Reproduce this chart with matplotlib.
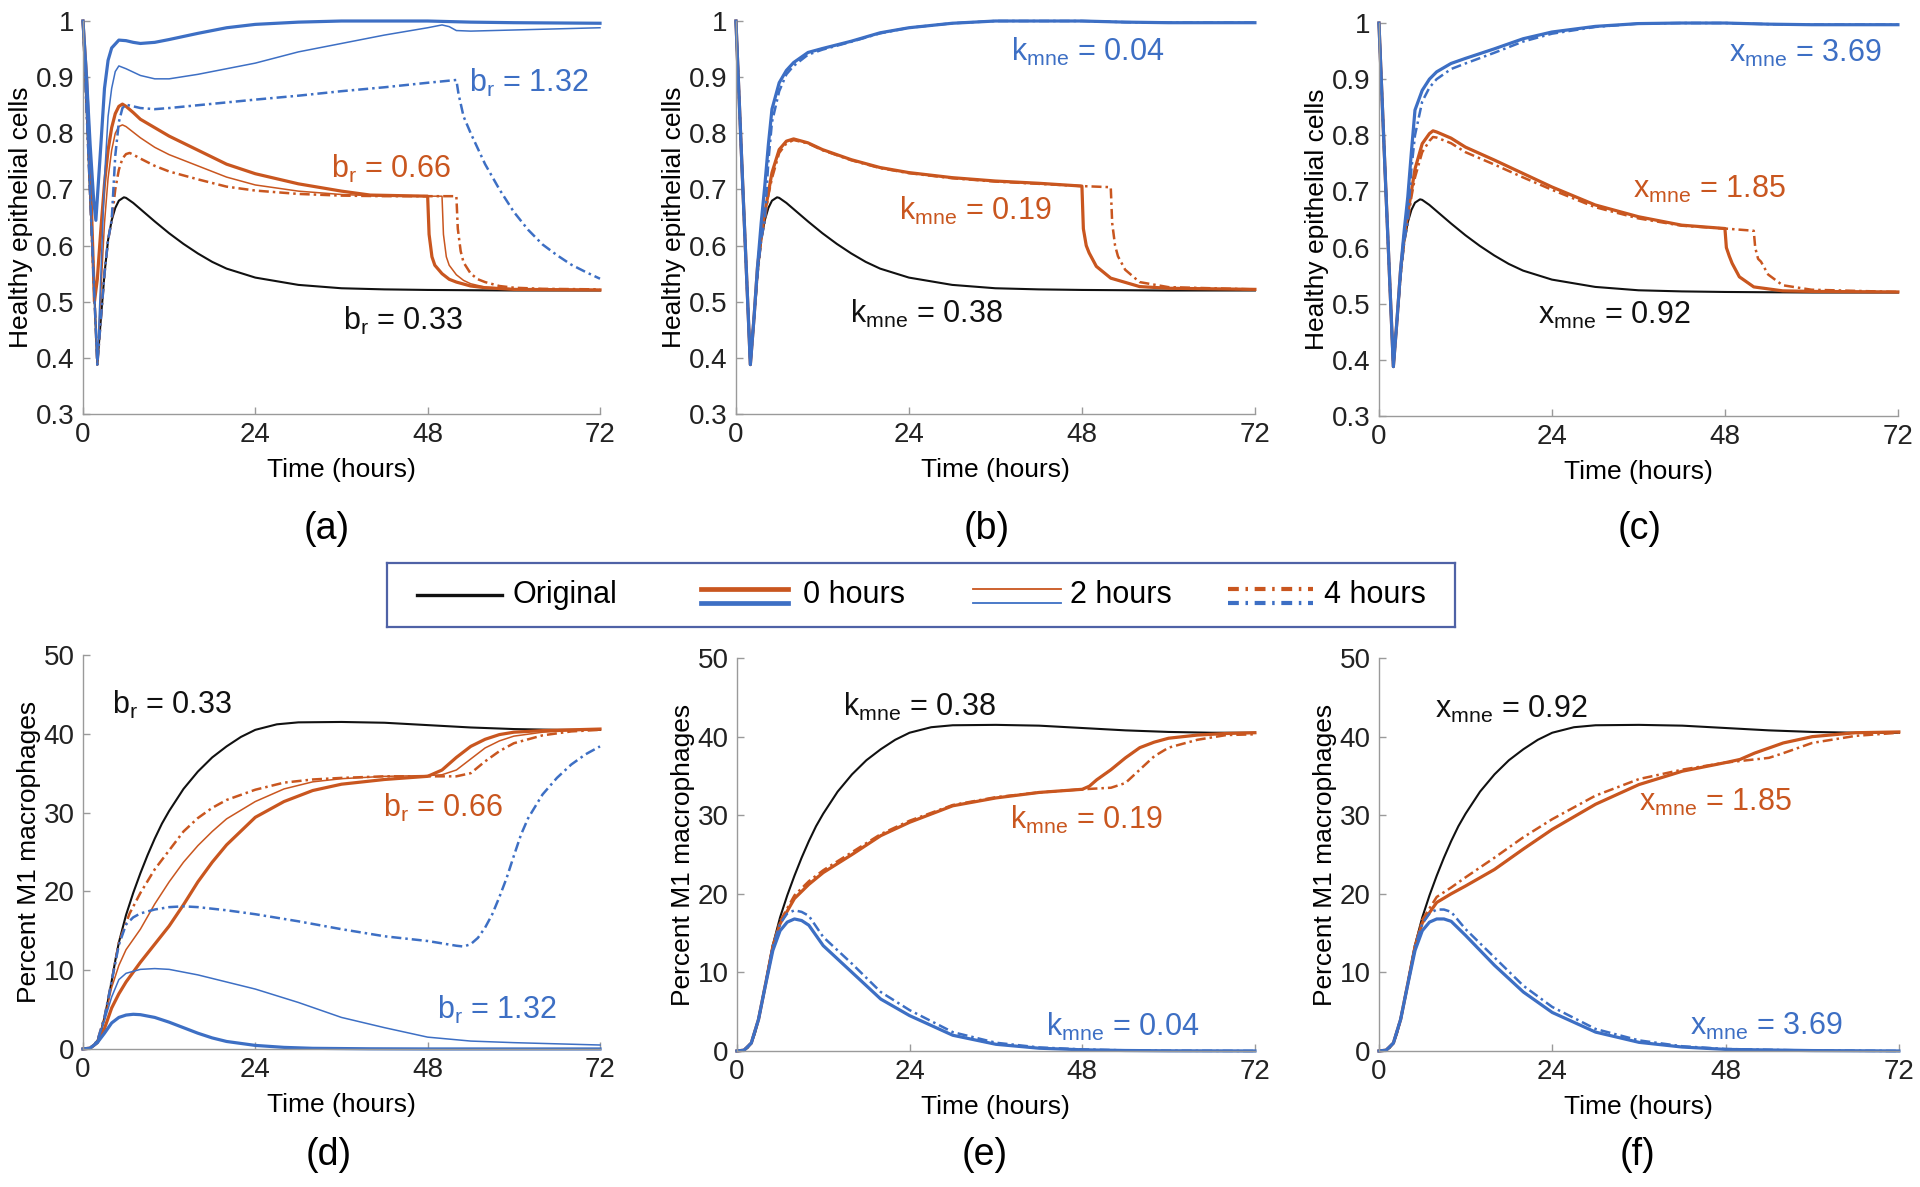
import matplotlib
matplotlib.use("Agg")
import matplotlib.pyplot as plt
from matplotlib.lines import Line2D
from matplotlib.ticker import FuncFormatter

plt.rcParams['font.family'] = ['Liberation Sans', 'DejaVu Sans']
plt.rcParams['mathtext.fontset'] = 'custom'
plt.rcParams['mathtext.rm'] = 'Liberation Sans'

ORANGE = '#C9561F'
BLUE = '#3D6FC4'
BLACK = '#111111'

# ---------------- healthy epithelial cells (top row) ----------------
t_epi_orig = [0, 1, 2, 2.5, 3, 3.5, 4, 4.5, 5, 5.7, 6, 7, 8, 9, 10, 12, 14, 16, 18, 20, 24, 30, 36,
              42, 48, 60, 72]
epi_orig = [1, 0.69, 0.388, 0.47, 0.55, 0.61, 0.645, 0.667, 0.68, 0.686, 0.685, 0.676, 0.665, 0.654,
            0.643, 0.622, 0.603, 0.586, 0.571, 0.559, 0.543, 0.53, 0.524, 0.522, 0.521, 0.52, 0.52]

# (a) b_r
a_t_or0 = [0, 0.5, 1, 1.6, 2, 2.5, 3, 3.5, 4, 4.5, 5, 5.5, 6, 7, 8, 10, 12, 16, 20, 24, 30, 36, 40,
           48, 48.2, 48.6, 49, 50, 51, 52, 54, 56, 60, 72]
a_or0 = [1, 0.9, 0.74, 0.5, 0.54, 0.63, 0.71, 0.77, 0.81, 0.835, 0.848, 0.852, 0.848, 0.837, 0.825,
         0.81, 0.795, 0.77, 0.745, 0.728, 0.71, 0.697, 0.69, 0.688, 0.62, 0.58, 0.565, 0.55, 0.54,
         0.535, 0.528, 0.525, 0.522, 0.521]
a_t_or2 = [0, 1, 2, 2.5, 3, 3.5, 4, 4.5, 5, 5.5, 6, 7, 8, 10, 12, 16, 20, 24, 30, 36, 42, 50,
           50.2, 50.6, 51, 52, 53, 54, 56, 60, 72]
a_or2 = [1, 0.69, 0.388, 0.52, 0.64, 0.72, 0.77, 0.8, 0.812, 0.815, 0.812, 0.802, 0.792, 0.775,
         0.762, 0.742, 0.722, 0.708, 0.697, 0.691, 0.688, 0.688, 0.62, 0.58, 0.565, 0.548, 0.538,
         0.532, 0.526, 0.523, 0.521]
a_t_or4 = [0, 1, 2, 2.5, 3, 3.5, 4, 4.5, 5, 5.5, 6, 6.5, 7, 8, 10, 12, 16, 20, 24, 30, 36, 42, 52,
           52.2, 52.6, 53, 54, 55, 56, 58, 60, 64, 72]
a_or4 = [1, 0.69, 0.388, 0.47, 0.55, 0.61, 0.645, 0.7, 0.735, 0.755, 0.763, 0.765, 0.762, 0.755,
         0.742, 0.732, 0.718, 0.705, 0.698, 0.692, 0.689, 0.688, 0.688, 0.63, 0.59, 0.57, 0.55,
         0.54, 0.535, 0.528, 0.525, 0.523, 0.522]
a_t_bl0 = [0, 0.5, 1, 1.5, 1.8, 2.5, 3, 3.5, 4, 5, 6, 7, 8, 10, 12, 16, 20, 24, 30, 36, 42, 48, 54,
           60, 72]
a_bl0 = [1, 0.9, 0.78, 0.68, 0.645, 0.78, 0.88, 0.93, 0.952, 0.966, 0.965, 0.962, 0.96, 0.962,
         0.967, 0.978, 0.988, 0.994, 0.998, 1.0, 1.0, 1.0, 0.998, 0.997, 0.996]
a_t_bl2 = [0, 1, 2, 2.5, 3, 3.5, 4, 4.5, 5, 6, 8, 10, 12, 16, 20, 24, 30, 36, 42, 48, 50, 51, 52,
           54, 60, 66, 72]
a_bl2 = [1, 0.69, 0.388, 0.55, 0.72, 0.83, 0.88, 0.91, 0.92, 0.915, 0.903, 0.897, 0.897, 0.905,
         0.915, 0.925, 0.945, 0.96, 0.975, 0.988, 0.993, 0.99, 0.983, 0.982, 0.984, 0.986, 0.988]
a_t_bl4 = [0, 1, 2, 2.5, 3, 3.5, 4, 4.5, 5, 5.5, 6, 7, 8, 10, 12, 16, 20, 24, 30, 36, 42, 48, 52,
           52.3, 53, 54, 56, 58, 60, 62, 64, 66, 68, 70, 72]
a_bl4 = [1, 0.69, 0.388, 0.47, 0.55, 0.61, 0.645, 0.76, 0.82, 0.845, 0.851, 0.848, 0.845, 0.843,
         0.845, 0.85, 0.855, 0.86, 0.867, 0.875, 0.882, 0.89, 0.895, 0.87, 0.83, 0.8, 0.745, 0.7,
         0.66, 0.628, 0.602, 0.583, 0.566, 0.553, 0.541]

# (b) k_mne
b_t_or = [0, 1, 2, 2.5, 3, 3.5, 4, 5, 6, 7, 8, 10, 12, 16, 20, 24, 30, 36, 42, 48, 48.2, 48.6, 49,
          50, 52, 56, 60, 72]
b_or = [1, 0.69, 0.388, 0.47, 0.563, 0.615, 0.658, 0.73, 0.771, 0.786, 0.79, 0.783, 0.771, 0.753,
        0.739, 0.73, 0.721, 0.715, 0.711, 0.706, 0.63, 0.6, 0.587, 0.563, 0.542, 0.527, 0.524, 0.522]
b_t_or4 = [0, 1, 2, 2.5, 3, 3.5, 4, 4.5, 5, 6, 7, 8, 10, 12, 16, 20, 24, 30, 36, 42, 48, 52, 52.2,
           52.6, 53, 54, 56, 60, 72]
b_or4 = [1, 0.69, 0.388, 0.47, 0.55, 0.61, 0.645, 0.69, 0.72, 0.765, 0.782, 0.788, 0.782, 0.77,
         0.752, 0.738, 0.729, 0.72, 0.714, 0.71, 0.706, 0.704, 0.64, 0.6, 0.581, 0.557, 0.535,
         0.526, 0.522]
b_t_bl = [0, 1, 2, 2.5, 3, 3.5, 4, 4.5, 5, 6, 7, 8, 10, 12, 16, 20, 24, 30, 36, 42, 48, 54, 60, 72]
b_bl = [1, 0.69, 0.388, 0.47, 0.563, 0.64, 0.706, 0.78, 0.843, 0.89, 0.912, 0.926, 0.944, 0.951,
        0.964, 0.979, 0.988, 0.996, 1.0, 1.0, 1.0, 0.998, 0.997, 0.997]
b_bl4 = [1, 0.69, 0.388, 0.47, 0.55, 0.61, 0.645, 0.75, 0.82, 0.875, 0.905, 0.92, 0.94, 0.949,
         0.963, 0.978, 0.988, 0.996, 1.0, 1.0, 1.0, 0.998, 0.997, 0.997]

# (c) x_mne
c_t_or = [0, 1, 2, 2.5, 3, 3.5, 4, 5, 6, 7, 7.5, 8, 10, 12, 16, 20, 24, 30, 36, 42, 48, 48.2, 48.6,
          49, 50, 52, 56, 60, 72]
c_or = [1, 0.69, 0.388, 0.47, 0.56, 0.62, 0.66, 0.74, 0.785, 0.803, 0.808, 0.806, 0.795, 0.779,
        0.756, 0.732, 0.708, 0.676, 0.655, 0.64, 0.634, 0.6, 0.585, 0.572, 0.548, 0.53, 0.523,
        0.522, 0.521]
c_t_or4 = [0, 1, 2, 2.5, 3, 3.5, 4, 4.5, 5, 6, 7, 7.5, 8, 10, 12, 16, 20, 24, 30, 36, 42, 48, 52,
           52.2, 52.6, 53, 54, 56, 60, 72]
c_or4 = [1, 0.69, 0.388, 0.47, 0.55, 0.61, 0.645, 0.69, 0.725, 0.77, 0.79, 0.797, 0.796, 0.786,
         0.77, 0.748, 0.725, 0.703, 0.672, 0.652, 0.639, 0.634, 0.63, 0.6, 0.58, 0.575, 0.552,
         0.533, 0.525, 0.521]
c_t_bl = [0, 1, 2, 2.5, 3, 3.5, 4, 4.5, 5, 6, 7, 8, 10, 12, 16, 20, 24, 30, 36, 42, 48, 54, 60, 72]
c_bl = [1, 0.69, 0.388, 0.47, 0.56, 0.63, 0.69, 0.77, 0.845, 0.88, 0.9, 0.913, 0.928, 0.937, 0.954,
        0.972, 0.984, 0.994, 0.999, 1.0, 1.0, 0.998, 0.997, 0.997]
c_bl4 = [1, 0.69, 0.388, 0.47, 0.55, 0.61, 0.645, 0.74, 0.8, 0.86, 0.885, 0.9, 0.918, 0.928, 0.947,
         0.967, 0.981, 0.993, 0.999, 1.0, 1.0, 0.998, 0.997, 0.997]

# ---------------- percent M1 macrophages (bottom row) ----------------
t_m1_orig = [0, 1, 1.5, 2, 2.5, 3, 3.5, 4, 4.5, 5, 6, 7, 8, 9, 10, 11, 12, 14, 16, 18, 20, 22, 24,
             27, 30, 36, 42, 48, 54, 60, 66, 72]
m1_orig = [0, 0.1, 0.4, 1.0, 2.2, 4.0, 6.2, 8.6, 11.2, 13.5, 17.0, 19.8, 22.3, 24.6, 26.7, 28.6,
           30.2, 33.0, 35.2, 37.0, 38.4, 39.6, 40.5, 41.2, 41.45, 41.5, 41.4, 41.1, 40.8, 40.6,
           40.5, 40.5]

# (d) b_r
d_t_or0 = [0, 1, 2, 3, 4, 5, 6, 8, 10, 12, 14, 16, 18, 20, 24, 28, 32, 36, 42, 48, 50, 52, 54, 56,
           58, 60, 64, 68, 72]
d_or0 = [0, 0.1, 0.8, 2.6, 5.2, 7.0, 8.5, 11, 13.3, 15.6, 18.3, 21.2, 23.7, 25.9, 29.4, 31.4, 32.8,
         33.6, 34.2, 34.6, 35.4, 37, 38.4, 39.3, 39.9, 40.2, 40.4, 40.5, 40.6]
d_t_or2 = [0, 1, 2, 3, 4, 5, 6, 8, 10, 12, 14, 16, 18, 20, 24, 28, 32, 36, 42, 48, 50, 52, 54, 56,
           58, 60, 64, 68, 72]
d_or2 = [0, 0.1, 1.0, 3.8, 7.8, 10.6, 12.6, 15.2, 18.4, 21.2, 23.7, 25.8, 27.6, 29.2, 31.4, 33.0,
         33.9, 34.3, 34.6, 34.7, 34.8, 35.4, 36.8, 38.2, 39.1, 39.7, 40.2, 40.4, 40.5]
d_t_or4 = [0, 1, 2, 3, 4, 5, 6.5, 8, 10, 12, 14, 16, 18, 20, 24, 28, 32, 36, 42, 48, 52, 54, 56,
           58, 60, 64, 68, 72]
d_or4 = [0, 0.1, 1.0, 4.0, 8.6, 13.5, 17.2, 19.8, 22.8, 25.2, 27.6, 29.3, 30.6, 31.6, 32.9, 33.8,
         34.2, 34.4, 34.6, 34.6, 34.6, 35, 36.5, 37.8, 38.8, 39.8, 40.3, 40.5]
d_t_bl0 = [0, 1, 2, 3, 4, 5, 6, 7, 8, 10, 12, 14, 16, 18, 20, 24, 28, 32, 40, 48, 72]
d_bl0 = [0, 0.1, 0.8, 2.0, 3.3, 4.0, 4.3, 4.4, 4.35, 4.0, 3.4, 2.7, 2.0, 1.4, 0.95, 0.45, 0.2, 0.08,
         0.02, 0, 0]
d_t_bl2 = [0, 1, 2, 3, 4, 5, 6, 8, 10, 12, 16, 20, 24, 30, 36, 42, 48, 54, 60, 66, 72]
d_bl2 = [0, 0.1, 1.0, 3.6, 6.6, 8.8, 9.6, 10.1, 10.2, 10.1, 9.4, 8.5, 7.6, 5.9, 4.0, 2.7, 1.5, 1.0,
         0.8, 0.65, 0.5]
d_t_bl4 = [0, 1, 2, 3, 4, 5, 6, 7, 8, 10, 12, 14, 16, 20, 24, 30, 36, 42, 48, 52, 53, 54, 55, 56,
           57, 58, 59, 60, 61, 62, 64, 66, 68, 70, 72]
d_bl4 = [0, 0.1, 1.0, 4.0, 8.6, 13.2, 15.8, 16.7, 17.2, 17.7, 18.0, 18.1, 18.0, 17.6, 17.1, 16.2,
         15.2, 14.3, 13.7, 13.1, 13.0, 13.3, 14.1, 15.4, 17.1, 19.3, 21.7, 24.5, 27.2, 29.3, 32.3,
         34.4, 36.1, 37.4, 38.4]

# (e) k_mne
e_t_or = [0, 1, 2, 3, 4, 5, 6, 8, 10, 12, 16, 20, 24, 30, 36, 42, 48, 49, 50, 52, 54, 56, 58, 60,
          64, 68, 72]
e_or = [0, 0.1, 1, 4, 8.6, 13.3, 16.2, 19.4, 21.2, 22.7, 25, 27.4, 29.1, 31.2, 32.2, 32.9, 33.3,
        33.7, 34.5, 35.8, 37.3, 38.6, 39.3, 39.8, 40.2, 40.4, 40.5]
e_t_or4 = [0, 1, 2, 3, 4, 5, 6, 8, 10, 12, 16, 20, 24, 30, 36, 42, 48, 52, 54, 56, 58, 60, 64, 68,
           72]
e_or4 = [0, 0.1, 1, 4, 8.6, 13.4, 16.5, 19.8, 21.6, 23, 25.3, 27.6, 29.3, 31.3, 32.3, 32.9, 33.3,
         33.5, 34.1, 35.8, 37.5, 38.6, 39.6, 40.2, 40.3]
e_t_bl = [0, 1, 2, 3, 4, 5, 6, 7, 8, 9, 10, 12, 16, 20, 24, 30, 36, 42, 48, 54, 60, 72]
e_bl = [0, 0.1, 1, 4, 8.5, 12.8, 15.3, 16.4, 16.8, 16.6, 16, 13.4, 10, 6.6, 4.5, 2.0, 0.85, 0.35,
        0.15, 0.06, 0.02, 0]
e_bl4 = [0, 0.1, 1, 4, 8.6, 13.3, 16.2, 17.5, 17.9, 17.7, 17.2, 14.5, 11.1, 7.5, 5.2, 2.4, 1.05,
         0.45, 0.2, 0.08, 0.03, 0]

# (f) x_mne
f_t_or = [0, 1, 2, 3, 4, 5, 6, 8, 10, 12, 16, 20, 24, 30, 36, 42, 48, 50, 52, 56, 60, 66, 72]
f_or = [0, 0.1, 1, 4, 8.6, 13.3, 16.3, 18.9, 20, 21, 23.1, 25.7, 28.2, 31.4, 33.9, 35.6, 36.7, 37.1,
        37.9, 39.2, 40, 40.5, 40.6]
f_t_or4 = [0, 1, 2, 3, 4, 5, 6, 8, 10, 12, 16, 20, 24, 30, 36, 42, 48, 52, 54, 56, 60, 66, 72]
f_or4 = [0, 0.1, 1, 4, 8.6, 13.4, 16.7, 19.6, 20.8, 22.1, 24.6, 27.2, 29.5, 32.5, 34.6, 35.8, 36.7,
         37.1, 37.3, 37.9, 39.2, 40.1, 40.5]
f_t_bl = [0, 1, 2, 3, 4, 5, 6, 7, 8, 9, 10, 12, 16, 20, 24, 30, 36, 42, 48, 60, 72]
f_bl = [0, 0.1, 1, 4, 8.5, 12.8, 15.3, 16.4, 16.8, 16.8, 16.5, 14.7, 10.9, 7.5, 4.9, 2.4, 1.1, 0.5,
        0.2, 0.05, 0]
f_bl4 = [0, 0.1, 1, 4, 8.6, 13.3, 16.2, 17.5, 18, 18, 17.7, 15.5, 11.9, 8.3, 5.6, 2.8, 1.35, 0.6,
         0.25, 0.05, 0]

# labels
panel_letters = ['(a)', '(b)', '(c)', '(d)', '(e)', '(f)']
legend_labels = ['Original', '0 hours', '2 hours', '4 hours']

LW_ORIG = 1.5
LW_THICK = 2.3
LW_THIN = 1.1
LW_DASH = 1.8
DASHDOT = (0, (4, 1.6, 1, 1.6))


def style_axes(ax, top):
    for s in ['top', 'right']:
        ax.spines[s].set_visible(False)
    for s in ['left', 'bottom']:
        ax.spines[s].set_color('#9a9a9a')
        ax.spines[s].set_linewidth(1.0)
    ax.set_xlim(0, 72)
    ax.set_xticks([0, 24, 48, 72])
    ax.tick_params(direction='in', length=5, width=1, color='#9a9a9a',
                   labelsize=20, labelcolor='#222222', pad=6)
    if top:
        ax.set_ylim(0.3, 1.0)
        ax.set_yticks([0.3, 0.4, 0.5, 0.6, 0.7, 0.8, 0.9, 1.0])
        ax.yaxis.set_major_formatter(FuncFormatter(lambda v, p: '%g' % round(v, 2)))
        ax.set_ylabel('Healthy epithelial cells', fontsize=19, labelpad=2)
    else:
        ax.set_ylim(0, 50)
        ax.set_yticks([0, 10, 20, 30, 40, 50])
        ax.set_ylabel('Percent M1 macrophages', fontsize=19, labelpad=2)
    ax.set_xlabel('Time (hours)', fontsize=19, labelpad=7)


def draw(ax, t_orig, y_orig, curves):
    ax.plot(t_orig, y_orig, color=BLACK, lw=LW_ORIG, clip_on=False)
    for t, y, col, kind in curves:
        if kind == 'thick':
            ax.plot(t, y, color=col, lw=LW_THICK, clip_on=False)
        elif kind == 'thin':
            ax.plot(t, y, color=col, lw=LW_THIN, clip_on=False)
        else:
            ax.plot(t, y, color=col, lw=LW_DASH, linestyle=DASHDOT, clip_on=False)


fig = plt.figure(figsize=(19.2, 11.87), dpi=100)

top_rects = [[0.0432, 0.6512, 0.2693, 0.3311],
             [0.3833, 0.6512, 0.2703, 0.3311],
             [0.7182, 0.6495, 0.2703, 0.3311]]
bot_rects = [[0.0432, 0.1163, 0.2693, 0.3319],
             [0.3838, 0.1146, 0.2698, 0.3310],
             [0.7182, 0.1146, 0.2708, 0.3310]]

axes = [fig.add_axes(r) for r in top_rects + bot_rects]
for i, ax in enumerate(axes):
    style_axes(ax, i < 3)

# (a)
draw(axes[0], t_epi_orig, epi_orig, [
    (a_t_or0, a_or0, ORANGE, 'thick'), (a_t_or2, a_or2, ORANGE, 'thin'),
    (a_t_or4, a_or4, ORANGE, 'dash'),
    (a_t_bl0, a_bl0, BLUE, 'thick'), (a_t_bl2, a_bl2, BLUE, 'thin'),
    (a_t_bl4, a_bl4, BLUE, 'dash')])
# (b)
draw(axes[1], t_epi_orig, epi_orig, [
    (b_t_or, b_or, ORANGE, 'thick'), (b_t_or, b_or, ORANGE, 'thin'),
    (b_t_or4, b_or4, ORANGE, 'dash'),
    (b_t_bl, b_bl, BLUE, 'thick'), (b_t_bl, b_bl, BLUE, 'thin'),
    (b_t_bl, b_bl4, BLUE, 'dash')])
# (c)
draw(axes[2], t_epi_orig, epi_orig, [
    (c_t_or, c_or, ORANGE, 'thick'), (c_t_or, c_or, ORANGE, 'thin'),
    (c_t_or4, c_or4, ORANGE, 'dash'),
    (c_t_bl, c_bl, BLUE, 'thick'), (c_t_bl, c_bl, BLUE, 'thin'),
    (c_t_bl, c_bl4, BLUE, 'dash')])
# (d)
draw(axes[3], t_m1_orig, m1_orig, [
    (d_t_or0, d_or0, ORANGE, 'thick'), (d_t_or2, d_or2, ORANGE, 'thin'),
    (d_t_or4, d_or4, ORANGE, 'dash'),
    (d_t_bl0, d_bl0, BLUE, 'thick'), (d_t_bl2, d_bl2, BLUE, 'thin'),
    (d_t_bl4, d_bl4, BLUE, 'dash')])
# (e)
draw(axes[4], t_m1_orig, m1_orig, [
    (e_t_or, e_or, ORANGE, 'thick'), (e_t_or, e_or, ORANGE, 'thin'),
    (e_t_or4, e_or4, ORANGE, 'dash'),
    (e_t_bl, e_bl, BLUE, 'thick'), (e_t_bl, e_bl, BLUE, 'thin'),
    (e_t_bl, e_bl4, BLUE, 'dash')])
# (f)
draw(axes[5], t_m1_orig, m1_orig, [
    (f_t_or, f_or, ORANGE, 'thick'), (f_t_or, f_or, ORANGE, 'thin'),
    (f_t_or4, f_or4, ORANGE, 'dash'),
    (f_t_bl, f_bl, BLUE, 'thick'), (f_t_bl, f_bl, BLUE, 'thin'),
    (f_t_bl, f_bl4, BLUE, 'dash')])

# parameter annotations
ann_kw = dict(fontsize=22, va='center', ha='left')
br = r'$\mathregular{b_r}$'
km = r'$\mathregular{k_{mne}}$'
xm = r'$\mathregular{x_{mne}}$'
axes[0].text(53.7, 0.889, br + ' = 1.32', color=BLUE, **ann_kw)
axes[0].text(34.5, 0.736, br + ' = 0.66', color=ORANGE, **ann_kw)
axes[0].text(36.2, 0.466, br + ' = 0.33', color=BLACK, **ann_kw)
axes[1].text(38.2, 0.945, km + ' = 0.04', color=BLUE, **ann_kw)
axes[1].text(22.6, 0.662, km + ' = 0.19', color=ORANGE, **ann_kw)
axes[1].text(15.8, 0.479, km + ' = 0.38', color=BLACK, **ann_kw)
axes[2].text(48.6, 0.945, xm + ' = 3.69', color=BLUE, **ann_kw)
axes[2].text(35.3, 0.703, xm + ' = 1.85', color=ORANGE, **ann_kw)
axes[2].text(22.1, 0.479, xm + ' = 0.92', color=BLACK, **ann_kw)
axes[3].text(4.1, 43.6, br + ' = 0.33', color=BLACK, **ann_kw)
axes[3].text(41.8, 30.6, br + ' = 0.66', color=ORANGE, **ann_kw)
axes[3].text(49.3, 5.0, br + ' = 1.32', color=BLUE, **ann_kw)
axes[4].text(14.7, 43.75, km + ' = 0.38', color=BLACK, **ann_kw)
axes[4].text(37.9, 29.4, km + ' = 0.19', color=ORANGE, **ann_kw)
axes[4].text(43.0, 3.1, km + ' = 0.04', color=BLUE, **ann_kw)
axes[5].text(7.8, 43.4, xm + ' = 0.92', color=BLACK, **ann_kw)
axes[5].text(36.0, 31.6, xm + ' = 1.85', color=ORANGE, **ann_kw)
axes[5].text(43.1, 3.1, xm + ' = 3.69', color=BLUE, **ann_kw)

# panel letters
letter_pos = [(0.170, 0.554), (0.514, 0.554), (0.854, 0.554),
              (0.171, 0.027), (0.513, 0.027), (0.853, 0.027)]
for (x, y), s in zip(letter_pos, panel_letters):
    fig.text(x, y, s, fontsize=27, ha='center', va='center')

# legend box
lax = fig.add_axes([0.2016, 0.4718, 0.5563, 0.0539])
lax.set_xlim(0, 1)
lax.set_ylim(0, 1)
lax.set_xticks([])
lax.set_yticks([])
for s in lax.spines.values():
    s.set_color('#4F62A6')
    s.set_linewidth(1.6)
lax.add_line(Line2D([0.028, 0.108], [0.5, 0.5], color=BLACK, lw=2.4))
item_x = [(0.294, 0.375), (0.549, 0.631), (0.787, 0.867)]
item_style = [dict(lw=3.4, ls='-'), dict(lw=1.3, ls='-'), dict(lw=3.0, ls=(0, (2.6, 1.6, 0.6, 1.6)))]
for (x0, x1), st in zip(item_x, item_style):
    lax.add_line(Line2D([x0, x1], [0.6, 0.6], color=ORANGE, **st))
    lax.add_line(Line2D([x0, x1], [0.38, 0.38], color=BLUE, **st))
text_x = [0.117, 0.389, 0.639, 0.877]
for x, s in zip(text_x, legend_labels):
    lax.text(x, 0.5, s, fontsize=22, va='center', ha='left')

fig.savefig('out.png', dpi=100)
